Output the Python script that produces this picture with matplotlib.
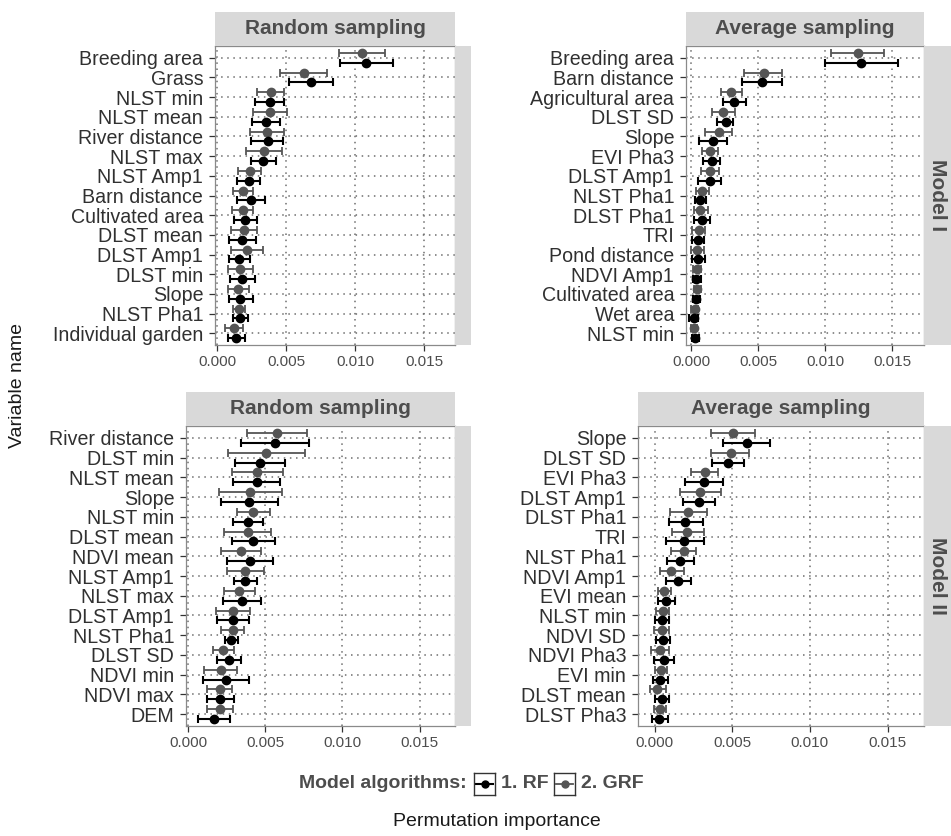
import matplotlib
matplotlib.use("Agg")
import matplotlib.pyplot as plt
import numpy as np
from matplotlib.patches import Rectangle
from matplotlib.lines import Line2D

plt.rcParams["font.family"] = ["Liberation Sans", "DejaVu Sans"]

# ---- Model I, random sampling ----
tl_labels = ["Breeding area", "Grass", "NLST min", "NLST mean", "River distance", "NLST max",
             "NLST Amp1", "Barn distance", "Cultivated area", "DLST mean", "DLST Amp1",
             "DLST min", "Slope", "NLST Pha1", "Individual garden"]
tl_rf = [0.01080, 0.00680, 0.00379, 0.00354, 0.00364, 0.00333, 0.00226, 0.00243, 0.00199,
         0.00180, 0.00160, 0.00180, 0.00167, 0.00163, 0.00138]
tl_rf_lo = [0.00886, 0.00522, 0.00272, 0.00250, 0.00245, 0.00243, 0.00143, 0.00146, 0.00121,
            0.00085, 0.00087, 0.00095, 0.00083, 0.00114, 0.00078]
tl_rf_hi = [0.01274, 0.00840, 0.00485, 0.00456, 0.00476, 0.00422, 0.00306, 0.00342, 0.00284,
            0.00282, 0.00235, 0.00274, 0.00260, 0.00221, 0.00201]
tl_grf = [0.01051, 0.00626, 0.00386, 0.00383, 0.00359, 0.00337, 0.00235, 0.00187, 0.00184,
          0.00192, 0.00214, 0.00165, 0.00153, 0.00158, 0.00121]
tl_grf_lo = [0.00881, 0.00451, 0.00286, 0.00260, 0.00238, 0.00206, 0.00153, 0.00112, 0.00109,
             0.00102, 0.00100, 0.00078, 0.00075, 0.00114, 0.00058]
tl_grf_hi = [0.01218, 0.00796, 0.00481, 0.00502, 0.00481, 0.00468, 0.00318, 0.00262, 0.00262,
             0.00286, 0.00333, 0.00257, 0.00233, 0.00201, 0.00189]

# ---- Model I, average sampling ----
tr_labels = ["Breeding area", "Barn distance", "Agricultural area", "DLST SD", "Slope", "EVI Pha3",
             "DLST Amp1", "NLST Pha1", "DLST Pha1", "TRI", "Pond distance", "NDVI Amp1",
             "Cultivated area", "Wet area", "NLST min"]
tr_rf = [0.01269, 0.00524, 0.00318, 0.00256, 0.00161, 0.00152, 0.00139, 0.00067, 0.00077,
         0.00050, 0.00047, 0.00035, 0.00035, 0.00020, 0.00030]
tr_rf_lo = [0.00998, 0.00380, 0.00236, 0.00189, 0.00057, 0.00089, 0.00050, 0.00025, 0.00020,
            0.00005, 0.00005, 0.00012, 0.00012, -0.00015, 0.00005]
tr_rf_hi = [0.01540, 0.00673, 0.00407, 0.00311, 0.00268, 0.00216, 0.00224, 0.00109, 0.00139,
            0.00094, 0.00104, 0.00070, 0.00062, 0.00050, 0.00055]
tr_grf = [0.01242, 0.00539, 0.00298, 0.00238, 0.00204, 0.00139, 0.00139, 0.00082, 0.00067,
          0.00055, 0.00042, 0.00040, 0.00045, 0.00025, 0.00020]
tr_grf_lo = [0.01043, 0.00392, 0.00224, 0.00154, 0.00104, 0.00079, 0.00070, 0.00037, 0.00017,
             0.00007, 0.00000, 0.00015, 0.00020, -0.00005, -0.00005]
tr_grf_hi = [0.01436, 0.00678, 0.00375, 0.00323, 0.00303, 0.00196, 0.00206, 0.00129, 0.00124,
             0.00104, 0.00094, 0.00070, 0.00075, 0.00050, 0.00045]

# ---- Model II, random sampling ----
bl_labels = ["River distance", "DLST min", "NLST mean", "Slope", "NLST min", "DLST mean",
             "NDVI mean", "NLST Amp1", "NLST max", "DLST Amp1", "NLST Pha1", "DLST SD",
             "NDVI min", "NDVI max", "DEM"]
bl_rf = [0.00565, 0.00463, 0.00444, 0.00396, 0.00387, 0.00418, 0.00398, 0.00368, 0.00346,
         0.00290, 0.00279, 0.00261, 0.00246, 0.00205, 0.00165]
bl_rf_lo = [0.00342, 0.00300, 0.00290, 0.00209, 0.00290, 0.00283, 0.00248, 0.00298, 0.00225,
            0.00188, 0.00235, 0.00183, 0.00097, 0.00118, 0.00061]
bl_rf_hi = [0.00782, 0.00624, 0.00595, 0.00585, 0.00483, 0.00561, 0.00552, 0.00444, 0.00474,
            0.00392, 0.00322, 0.00340, 0.00396, 0.00294, 0.00273]
bl_grf = [0.00578, 0.00507, 0.00448, 0.00402, 0.00420, 0.00385, 0.00342, 0.00368, 0.00331,
          0.00287, 0.00287, 0.00225, 0.00209, 0.00203, 0.00203]
bl_grf_lo = [0.00383, 0.00255, 0.00281, 0.00196, 0.00313, 0.00233, 0.00214, 0.00248, 0.00229,
             0.00179, 0.00214, 0.00157, 0.00105, 0.00123, 0.00118]
bl_grf_hi = [0.00771, 0.00760, 0.00615, 0.00608, 0.00530, 0.00535, 0.00472, 0.00493, 0.00435,
             0.00400, 0.00361, 0.00296, 0.00313, 0.00283, 0.00290]

# ---- Model II, average sampling ----
br_labels = ["Slope", "DLST SD", "EVI Pha3", "DLST Amp1", "DLST Pha1", "TRI", "NLST Pha1",
             "NDVI Amp1", "EVI mean", "NLST min", "NDVI SD", "NDVI Pha3", "EVI min",
             "DLST mean", "DLST Pha3"]
br_rf = [0.00594, 0.00472, 0.00315, 0.00283, 0.00195, 0.00189, 0.00165, 0.00150, 0.00075,
         0.00045, 0.00054, 0.00060, 0.00036, 0.00047, 0.00030]
br_rf_lo = [0.00438, 0.00371, 0.00195, 0.00182, 0.00092, 0.00071, 0.00082, 0.00075, 0.00024,
            0.00000, 0.00006, -0.00004, -0.00011, 0.00000, -0.00015]
br_rf_hi = [0.00745, 0.00573, 0.00440, 0.00386, 0.00309, 0.00315, 0.00253, 0.00234, 0.00131,
            0.00090, 0.00101, 0.00127, 0.00084, 0.00092, 0.00086]
br_grf = [0.00504, 0.00489, 0.00322, 0.00292, 0.00217, 0.00210, 0.00187, 0.00107, 0.00062,
          0.00052, 0.00045, 0.00034, 0.00041, 0.00017, 0.00032]
br_grf_lo = [0.00365, 0.00365, 0.00232, 0.00161, 0.00097, 0.00109, 0.00107, 0.00032, 0.00019,
             0.00009, -0.00002, -0.00024, 0.00000, -0.00032, -0.00002]
br_grf_hi = [0.00644, 0.00609, 0.00410, 0.00425, 0.00339, 0.00318, 0.00268, 0.00187, 0.00105,
             0.00094, 0.00092, 0.00094, 0.00079, 0.00071, 0.00071]

x_ticks = [0.0, 0.005, 0.010, 0.015]
x_ticklabels = ["0.000", "0.005", "0.010", "0.015"]

W, H = 951, 836
RF_COL = "#000000"
GRF_COL = "#555555"
STRIP = "#D9D9D9"
STRIP_TXT = "#4D4D4D"

fig = plt.figure(figsize=(W / 100, H / 100), dpi=100)


def px_rect(left, top, right, bottom):
    return [left / W, 1 - bottom / H, (right - left) / W, (bottom - top) / H]


def strip_box(left, top, right, bottom, text=None, rotation=0):
    fig.patches.append(Rectangle((left / W, 1 - bottom / H), (right - left) / W, (bottom - top) / H,
                                 transform=fig.transFigure, facecolor=STRIP, edgecolor="none"))
    if text:
        fig.text((left + right) / 2 / W, 1 - (top + bottom) / 2 / H, text, rotation=rotation,
                 ha="center", va="center", fontsize=15, fontweight="bold", color=STRIP_TXT)


def panel(rect, labels, rf, rf_lo, rf_hi, grf, grf_lo, grf_hi, xlim):
    ax = fig.add_axes(px_rect(*rect))
    n = len(labels)
    y = np.arange(n)
    rf = np.array(rf)
    grf = np.array(grf)
    ax.errorbar(grf, y - 0.25, xerr=[grf - np.array(grf_lo), np.array(grf_hi) - grf],
                fmt="o", color=GRF_COL, ecolor=GRF_COL, ms=6, elinewidth=1.3, capsize=3.2,
                capthick=1.3, zorder=3)
    ax.errorbar(rf, y + 0.25, xerr=[rf - np.array(rf_lo), np.array(rf_hi) - rf],
                fmt="o", color=RF_COL, ecolor=RF_COL, ms=6, elinewidth=1.5, capsize=3.2,
                capthick=1.5, zorder=4)
    ax.set_yticks(y)
    ax.set_yticklabels(labels, fontsize=14.1, color="#303030")
    ax.set_ylim(n - 0.4, -0.6)
    ax.set_xlim(*xlim)
    ax.set_xticks(x_ticks)
    ax.set_xticklabels(x_ticklabels, fontsize=11, color="#4D4D4D")
    ax.grid(True, color="#6E6E6E", linestyle=(0, (1, 3)), linewidth=1.1)
    ax.set_axisbelow(True)
    for s in ax.spines.values():
        s.set_color("#8A8A8A")
        s.set_linewidth(0.9)
    ax.tick_params(axis="both", length=4, width=0.9, color="#333333")
    ax.tick_params(axis="y", pad=4.5)
    ax.tick_params(axis="x", pad=3)
    return ax


# top row
strip_box(215, 12, 455, 46, "Random sampling")
strip_box(455, 46, 471, 345)
panel((215, 46, 455, 345), tl_labels, tl_rf, tl_rf_lo, tl_rf_hi, tl_grf, tl_grf_lo, tl_grf_hi,
      (-0.00017, 0.01723))

strip_box(686, 12, 924, 46, "Average sampling")
strip_box(924, 46, 951, 345, "Model I", rotation=270)
panel((686, 46, 924, 345), tr_labels, tr_rf, tr_rf_lo, tr_rf_hi, tr_grf, tr_grf_lo, tr_grf_hi,
      (-0.0004, 0.01736))

# bottom row
strip_box(186, 392, 455, 426, "Random sampling")
strip_box(455, 426, 471, 726)
panel((186, 426, 455, 726), bl_labels, bl_rf, bl_rf_lo, bl_rf_hi, bl_grf, bl_grf_lo, bl_grf_hi,
      (-0.00015, 0.0173))

strip_box(638, 392, 924, 426, "Average sampling")
strip_box(924, 426, 951, 726, "Model II", rotation=270)
panel((638, 426, 924, 726), br_labels, br_rf, br_rf_lo, br_rf_hi, br_grf, br_grf_lo, br_grf_hi,
      (-0.00107, 0.01735))

# axis titles
fig.text(18 / W, 1 - 385 / H, "Variable name", rotation=90, ha="center", va="center",
         fontsize=14, color="#1A1A1A")
fig.text(497 / W, 1 - 822 / H, "Permutation importance", ha="center", va="center",
         fontsize=14, color="#1A1A1A")

# legend
leg_y = 784
fig.text(467 / W, 1 - leg_y / H, "Model algorithms:", ha="right", va="center",
         fontsize=14, fontweight="bold", color=STRIP_TXT)
for (kx, lbl, col, lw) in [(474, "1. RF", RF_COL, 1.5), (554, "2. GRF", GRF_COL, 1.3)]:
    kax = fig.add_axes(px_rect(kx, leg_y - 11, kx + 21, leg_y + 11))
    kax.add_line(Line2D([0.1, 0.9], [0.5, 0.5], color=col, lw=lw, marker=None))
    kax.plot([0.5], [0.5], "o", color=col, ms=5)
    kax.set_xlim(0, 1)
    kax.set_ylim(0, 1)
    kax.set_xticks([])
    kax.set_yticks([])
    for s in kax.spines.values():
        s.set_color("#333333")
        s.set_linewidth(1.0)
    fig.text((kx + 27) / W, 1 - leg_y / H, lbl, ha="left", va="center", fontsize=14,
             fontweight="bold", color=STRIP_TXT)

fig.savefig("out.png", dpi=100)
